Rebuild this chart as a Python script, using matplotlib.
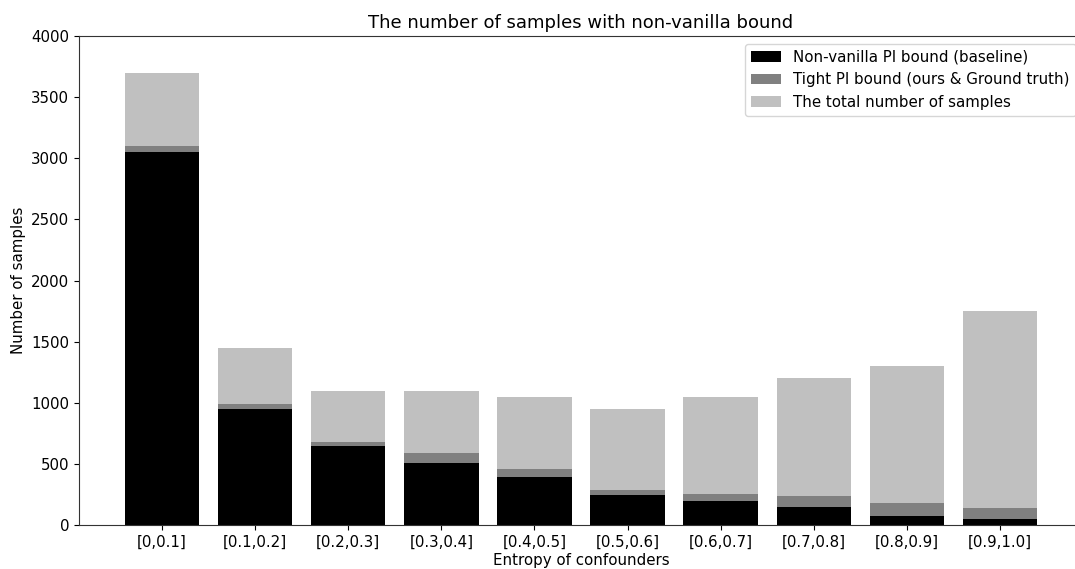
import numpy as np
import matplotlib
matplotlib.use('Agg')
import matplotlib.pyplot as plt

# entropy bins of the confounders
bins = ['[0,0.1]', '[0.1,0.2]', '[0.2,0.3]', '[0.3,0.4]', '[0.4,0.5]',
        '[0.5,0.6]', '[0.6,0.7]', '[0.7,0.8]', '[0.8,0.9]', '[0.9,1.0]']

total_samples = [3700, 1450, 1100, 1100, 1050, 950, 1050, 1200, 1300, 1750]
tight_bound = [3100, 990, 680, 590, 460, 290, 250, 240, 180, 140]
baseline_bound = [3050, 950, 650, 510, 390, 245, 200, 150, 70, 50]

plt.rcParams['font.size'] = 10.8
plt.rcParams['axes.edgecolor'] = '#333333'

fig = plt.figure(figsize=(10.75, 5.69), dpi=100)
ax = fig.add_axes([0.0735, 0.0773, 0.934, 0.8594])

x = np.arange(len(bins))
h_total = ax.bar(x, total_samples, width=0.8, color='silver')
h_tight = ax.bar(x, tight_bound, width=0.8, color='grey')
h_base = ax.bar(x, baseline_bound, width=0.8, color='black')

ax.set_xticks(x)
ax.set_xticklabels(bins)
ax.set_ylim(0, 4000)
ax.set_xlabel('Entropy of confounders', labelpad=2)
ax.set_ylabel('Number of samples')
ax.set_title('The number of samples with non-vanilla bound', fontsize=13)

ax.legend([h_base, h_tight, h_total],
          ['Non-vanilla PI bound (baseline)', 'Tight PI bound (ours & Ground truth)',
           'The total number of samples'],
          loc='upper right')

fig.savefig('out.png', dpi=100)
